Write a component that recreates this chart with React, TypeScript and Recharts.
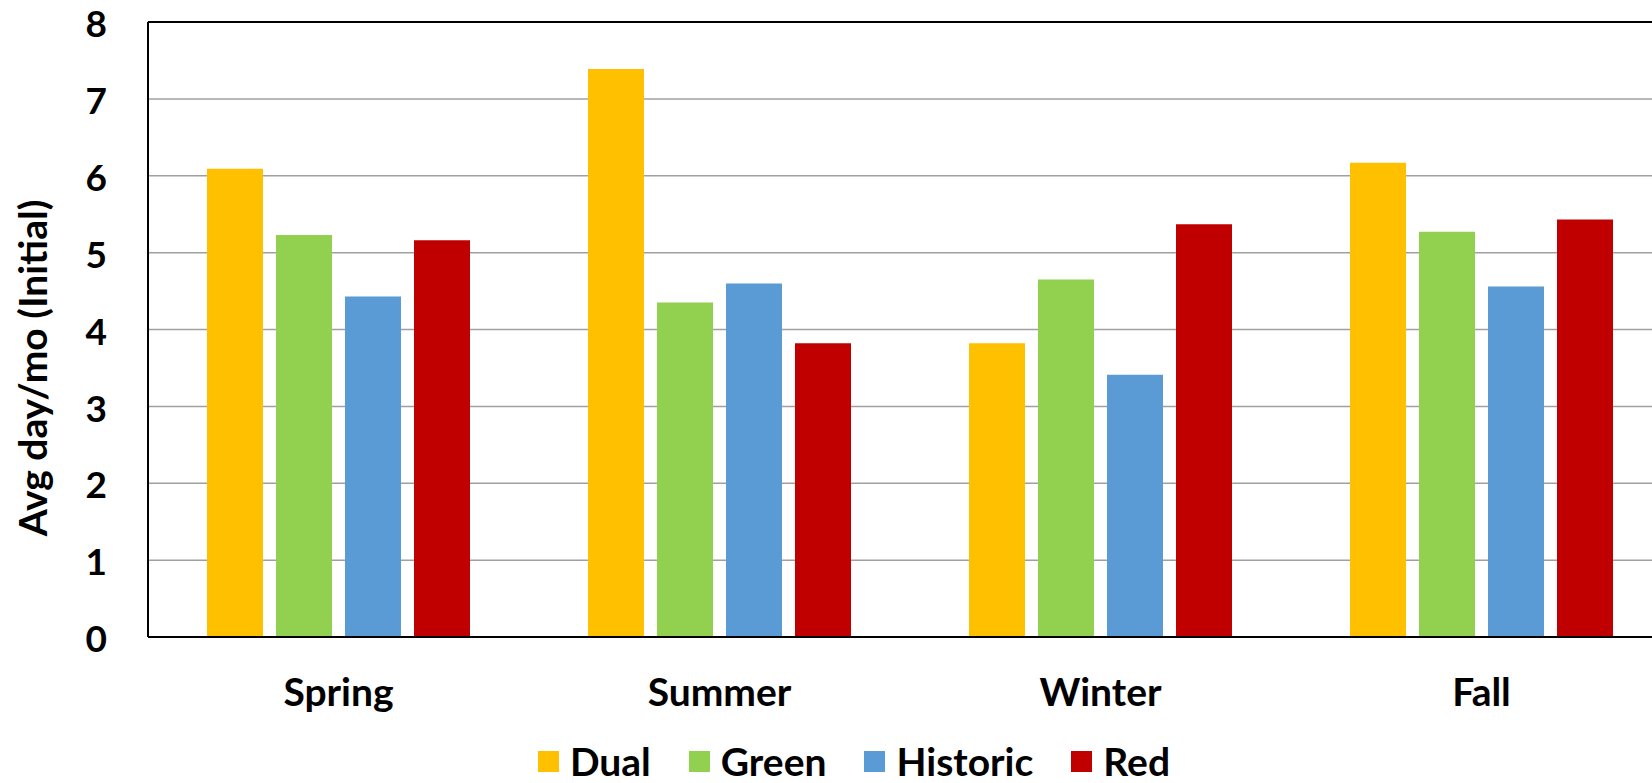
import {
  Bar,
  BarChart,
  CartesianGrid,
  Label,
  Legend,
  ReferenceLine,
  XAxis,
  YAxis,
} from "recharts";

const seasons = ["Spring", "Summer", "Winter", "Fall"];
const dual = [6.09, 7.39, 3.82, 6.17];
const green = [5.23, 4.35, 4.65, 5.27];
const historic = [4.43, 4.6, 3.41, 4.56];
const red = [5.16, 3.82, 5.37, 5.43];
const yTicks = [0, 1, 2, 3, 4, 5, 6, 7, 8];

const seriesInfo = [
  { key: "Dual", color: "#FFC000" },
  { key: "Green", color: "#92D050" },
  { key: "Historic", color: "#5B9BD5" },
  { key: "Red", color: "#C00000" },
];

const data = seasons.map((season, i) => ({
  season,
  Dual: dual[i],
  Green: green[i],
  Historic: historic[i],
  Red: red[i],
}));

const FONT = "Lato, 'Open Sans', sans-serif";
const FS = 39;

function YTitle() {
  return (
    <text
      x={32}
      y={368}
      transform="rotate(-90, 32, 368)"
      textAnchor="middle"
      dominantBaseline="central"
      fontFamily={FONT}
      fontWeight={700}
      fontSize={FS}
      fill="#000"
    >
      Avg day/mo (Initial)
    </text>
  );
}

function LegendContent(props: any) {
  const payload = props.payload || [];
  return (
    <div
      style={{
        display: "flex",
        justifyContent: "center",
        alignItems: "center",
        fontFamily: FONT,
        fontWeight: 700,
        fontSize: FS,
        lineHeight: 1,
        color: "#000",
      }}
    >
      {payload.map((entry: any) => (
        <div
          key={entry.value}
          style={{ display: "flex", alignItems: "center", margin: "0 19px" }}
        >
          <span
            style={{
              width: 21,
              height: 21,
              background: entry.color,
              display: "inline-block",
              marginRight: 11,
            }}
          />
          <span>{entry.value}</span>
        </div>
      ))}
    </div>
  );
}

export default function App() {
  return (
    <div
      style={{
        position: "absolute",
        left: 0,
        top: 0,
        width: 1652,
        height: 783,
        overflow: "hidden",
        background: "#fff",
      }}
    >
      <BarChart
        width={1708}
        height={783}
        data={data}
        margin={{ top: 22, right: 36, left: 0, bottom: 0 }}
        barSize={56}
        barGap={13}
      >
        <CartesianGrid vertical={false} stroke="#a0a0a0" strokeWidth={1.5} />
        <XAxis
          dataKey="season"
          height={106}
          axisLine={{ stroke: "#000", strokeWidth: 2 }}
          tickLine={false}
          tickSize={0}
          tickMargin={41}
          tick={{ fontSize: FS, fontWeight: 700, fill: "#000", fontFamily: FONT }}
        />
        <YAxis
          width={148}
          domain={[0, 8]}
          ticks={yTicks}
          interval={0}
          axisLine={{ stroke: "#000", strokeWidth: 2 }}
          tickLine={false}
          tickSize={0}
          tickMargin={41}
          tick={{ fontSize: 37, fontWeight: 700, fill: "#000", fontFamily: FONT, dy: 2 }}
        >
          <Label content={<YTitle />} />
        </YAxis>
        <ReferenceLine y={8} stroke="#000" strokeWidth={2} />
        <Legend
          verticalAlign="bottom"
          content={<LegendContent />}
          wrapperStyle={{ top: 742, bottom: "auto", left: 0, width: 1708, height: 40 }}
        />
        {seriesInfo.map((s) => (
          <Bar
            key={s.key}
            dataKey={s.key}
            fill={s.color}
            isAnimationActive={false}
          />
        ))}
      </BarChart>
    </div>
  );
}
